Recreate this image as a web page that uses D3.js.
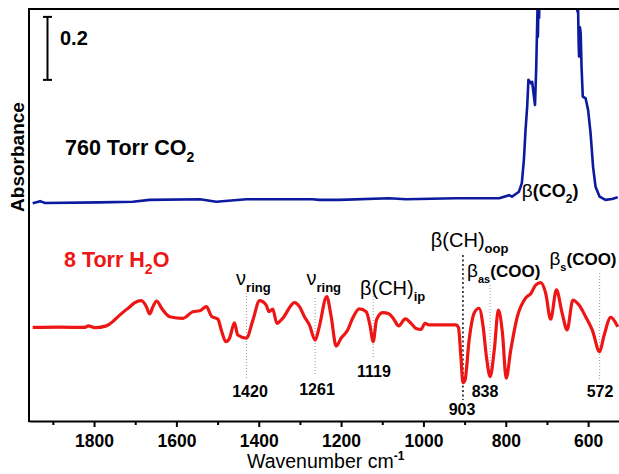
<!DOCTYPE html>
<html>
<head>
<meta charset="utf-8">
<script src="https://cdn.jsdelivr.net/npm/d3@7"></script>
<style>
  body { margin: 0; background: #fff; }
  svg { display: block; font-family: Arial, "Liberation Sans", sans-serif; }
</style>
</head>
<body>
<svg id="chart" width="619" height="474"></svg>
<script>
// 760 Torr CO2 trace (wavenumber, absorbance with offset)
const co2Wn = [1949, 1931, 1919, 1786, 1706, 1665, 1543, 1503, 1430, 1270, 1253, 1204, 1083, 1042, 921, 816, 792, 785, 768, 761, 756, 752, 748, 745, 739, 736, 729, 726, 723, 722, 720, 719, 717, 714, 700, 680, 660, 640, 631, 629, 628, 626, 625, 623, 622, 620, 618, 616, 613, 606, 600, 594, 588, 582, 572, 558, 542, 528];
const co2Abs = [0.691, 0.698, 0.692, 0.694, 0.696, 0.702, 0.704, 0.696, 0.704, 0.704, 0.702, 0.702, 0.707, 0.704, 0.707, 0.707, 0.717, 0.712, 0.728, 0.755, 0.829, 0.924, 0.998, 1.083, 1.072, 1.077, 1.003, 1.125, 1.305, 1.22, 1.36, 1.28, 1.5, 1.6, 1.7, 1.75, 1.75, 1.65, 1.5, 1.33, 1.4, 1.3, 1.36, 1.2, 1.157, 1.25, 1.232, 1.125, 1.03, 1.024, 0.987, 0.913, 0.807, 0.744, 0.712, 0.702, 0.705, 0.710];

// 8 Torr H2O trace
const h2oWn = [1949, 1883, 1822, 1814, 1798, 1770, 1762, 1737, 1713, 1701, 1685, 1673, 1665, 1657, 1648, 1636, 1616, 1584, 1560, 1543, 1527, 1515, 1499, 1491, 1480, 1471, 1459, 1451, 1430, 1414, 1398, 1382, 1375, 1366, 1356, 1342, 1313, 1301, 1289, 1277, 1263, 1253, 1235, 1224, 1212, 1200, 1184, 1172, 1156, 1139, 1130, 1122, 1114, 1099, 1083, 1071, 1060, 1044, 1030, 1018, 1006, 996, 986, 921, 915, 909, 904, 899, 889, 877, 865, 855, 847, 838, 828, 818, 808, 799, 788, 772, 752, 739, 727, 715, 703, 691, 677, 663, 651, 637, 622, 606, 590, 572, 562, 545, 528];
const h2oAbs = [0.297, 0.298, 0.297, 0.302, 0.296, 0.302, 0.308, 0.337, 0.363, 0.376, 0.382, 0.363, 0.340, 0.363, 0.381, 0.358, 0.331, 0.326, 0.347, 0.350, 0.363, 0.333, 0.323, 0.289, 0.252, 0.263, 0.312, 0.273, 0.263, 0.321, 0.382, 0.368, 0.347, 0.355, 0.310, 0.326, 0.376, 0.363, 0.331, 0.305, 0.257, 0.299, 0.395, 0.331, 0.238, 0.263, 0.289, 0.326, 0.356, 0.347, 0.305, 0.252, 0.321, 0.344, 0.340, 0.321, 0.302, 0.324, 0.310, 0.294, 0.291, 0.310, 0.305, 0.305, 0.297, 0.204, 0.122, 0.130, 0.257, 0.342, 0.358, 0.299, 0.204, 0.141, 0.225, 0.352, 0.278, 0.136, 0.225, 0.331, 0.390, 0.405, 0.432, 0.439, 0.405, 0.323, 0.416, 0.342, 0.289, 0.384, 0.368, 0.331, 0.289, 0.220, 0.268, 0.329, 0.299];

// x axis ticks
const majorTicks = [1800, 1600, 1400, 1200, 1000, 800, 600];
const minorTicks = [1900, 1700, 1500, 1300, 1100, 900, 700];

// marked bands on the H2O trace: position of the dotted line and its printed label
const peakPos = [1430, 1263, 1122, 904, 838, 572];
const peakLabels = ['1420', '1261', '1119', '903', '838', '572'];

const BLUE = '#0b1a9e';
const RED = '#ee1515';

const svg = d3.select('#chart');
const x = d3.scaleLinear().domain([1958, 525]).range([29, 619]);
const y = d3.scaleLinear().domain([0, 1.308]).range([421, 9]);

svg.append('defs').append('clipPath').attr('id', 'plot-clip')
  .append('rect').attr('x', 29).attr('y', 9).attr('width', 590).attr('height', 412);

// dotted guide lines for the marked bands (drawn under the trace)
const guideTop = [293, 298, 296, 255, 285, 273];
const guideBottom = [378, 376, 359, 400, 378, 381];
svg.append('g').selectAll('line.guide')
  .data(peakPos)
  .join('line')
  .classed('guide', true)
  .attr('x1', d => x(d)).attr('x2', d => x(d))
  .attr('y1', (d, i) => guideTop[i])
  .attr('y2', (d, i) => guideBottom[i])
  .attr('stroke', (d, i) => i === 3 ? '#000' : '#999')
  .attr('stroke-width', (d, i) => i === 3 ? 1.4 : 1)
  .attr('stroke-dasharray', (d, i) => i === 3 ? '2,2.5' : '1,2');

// traces
const plot = svg.append('g').attr('clip-path', 'url(#plot-clip)');

const co2Line = d3.line()
  .x(d => x(d[0])).y(d => y(d[1]));
plot.append('path')
  .datum(d3.zip(co2Wn, co2Abs))
  .attr('d', co2Line)
  .attr('fill', 'none')
  .attr('stroke', BLUE)
  .attr('stroke-width', 2.6)
  .attr('stroke-linejoin', 'round');

const h2oLine = d3.line()
  .x(d => x(d[0])).y(d => y(d[1]))
  .curve(d3.curveMonotoneX);
plot.append('path')
  .datum(d3.zip(h2oWn, h2oAbs))
  .attr('d', h2oLine)
  .attr('fill', 'none')
  .attr('stroke', RED)
  .attr('stroke-width', 3.2)
  .attr('stroke-linejoin', 'round');

// frame: left and top lines
svg.append('line').attr('x1', 29).attr('x2', 29).attr('y1', 8).attr('y2', 422)
  .attr('stroke', '#000').attr('stroke-width', 2);
svg.append('line').attr('x1', 28).attr('x2', 619).attr('y1', 9).attr('y2', 9)
  .attr('stroke', '#000').attr('stroke-width', 2);

// bottom axis
const xAxis = svg.append('g').attr('transform', 'translate(0,421)')
  .call(d3.axisBottom(x).tickValues(majorTicks).tickSize(6).tickSizeOuter(0)
    .tickPadding(8).tickFormat(d3.format('d')));
xAxis.select('.domain').attr('stroke-width', 2);
xAxis.selectAll('.tick line').attr('stroke-width', 2);
xAxis.selectAll('.tick text')
  .attr('font-family', 'Arial, "Liberation Sans", sans-serif')
  .attr('font-size', 17.5).attr('font-weight', 'bold').attr('fill', '#000');
svg.append('g').attr('transform', 'translate(0,421)')
  .call(d3.axisBottom(x).tickValues(minorTicks).tickSize(4).tickSizeOuter(0).tickFormat(''))
  .call(g => g.select('.domain').remove())
  .selectAll('.tick line').attr('stroke-width', 2);

// axis titles
const xTitle = svg.append('text').attr('x', 247).attr('y', 468)
  .attr('font-size', 19.5).attr('fill', '#000');
xTitle.append('tspan').text('Wavenumber cm');
xTitle.append('tspan').attr('font-size', 12).attr('font-weight', 'bold').attr('dy', -8).text('-1');

svg.append('text')
  .attr('transform', 'translate(24,157) rotate(-90)')
  .attr('text-anchor', 'middle')
  .attr('font-size', 19).attr('font-weight', 'bold')
  .text('Absorbance');

// 0.2 absorbance scale bar
const barX = 47.5, barBase = 1.083, barSize = 0.2;
const bar = svg.append('g').attr('stroke', '#000').attr('stroke-width', 2);
bar.append('line').attr('x1', barX).attr('x2', barX).attr('y1', y(barBase)).attr('y2', y(barBase + barSize));
bar.append('line').attr('x1', barX - 4.5).attr('x2', barX + 4.5).attr('y1', y(barBase)).attr('y2', y(barBase));
bar.append('line').attr('x1', barX - 4.5).attr('x2', barX + 4.5).attr('y1', y(barBase + barSize)).attr('y2', y(barBase + barSize));
svg.append('text').attr('x', 60).attr('y', 45)
  .attr('font-size', 20).attr('font-weight', 'bold').text('0.2');

// trace names
const co2Name = svg.append('text').attr('x', 65).attr('y', 155)
  .attr('font-size', 21.5).attr('font-weight', 'bold').attr('fill', '#000');
co2Name.append('tspan').text('760 Torr CO');
co2Name.append('tspan').attr('font-size', 14).attr('dy', 7).text('2');

const h2oName = svg.append('text').attr('x', 64).attr('y', 267)
  .attr('font-size', 21.5).attr('font-weight', 'bold').attr('fill', RED);
h2oName.append('tspan').text('8 Torr H');
h2oName.append('tspan').attr('font-size', 14).attr('dy', 7).text('2');
h2oName.append('tspan').attr('dy', -7).text('O');

// band assignments
function label(px, py, parts) {
  const t = svg.append('text').attr('x', px).attr('y', py).attr('fill', '#000');
  let shift = 0;
  parts.forEach(p => {
    const s = t.append('tspan').text(p.text)
      .attr('font-size', p.size).attr('font-weight', p.bold ? 'bold' : 'normal');
    const dy = (p.sub || 0) - shift;
    if (dy) s.attr('dy', dy);
    shift = p.sub || 0;
  });
}
label(x(1455), 285, [{ text: 'ν', size: 20 }, { text: 'ring', size: 13, bold: true, sub: 7 }]);
label(x(1284), 285, [{ text: 'ν', size: 20 }, { text: 'ring', size: 13, bold: true, sub: 7 }]);
label(x(1154), 295, [{ text: 'β(CH)', size: 20 }, { text: 'ip', size: 13, bold: true, sub: 6 }]);
label(x(982), 247, [{ text: 'β(CH)', size: 20 }, { text: 'oop', size: 13, bold: true, sub: 6 }]);
label(x(894), 277, [{ text: 'β', size: 19 }, { text: 'as', size: 11, bold: true, sub: 6 }, { text: '(COO)', size: 17, bold: true }]);
label(x(694), 265, [{ text: 'β', size: 19 }, { text: 's', size: 11, bold: true, sub: 6 }, { text: '(COO)', size: 17, bold: true }]);
label(x(761), 197, [{ text: 'β', size: 19 }, { text: '(CO', size: 18, bold: true }, { text: '2', size: 12, bold: true, sub: 6 }, { text: ')', size: 18, bold: true }]);

// wavenumber labels for the marked bands
const labelY = [397, 395, 377, 415, 397, 397];
const labelX = [250, 317, 374, 462, 485, 600];
svg.append('g').selectAll('text')
  .data(peakLabels)
  .join('text')
  .attr('x', (d, i) => labelX[i])
  .attr('y', (d, i) => labelY[i])
  .attr('text-anchor', 'middle')
  .attr('font-size', 16).attr('font-weight', 'bold')
  .text(d => d);
</script>
</body>
</html>
